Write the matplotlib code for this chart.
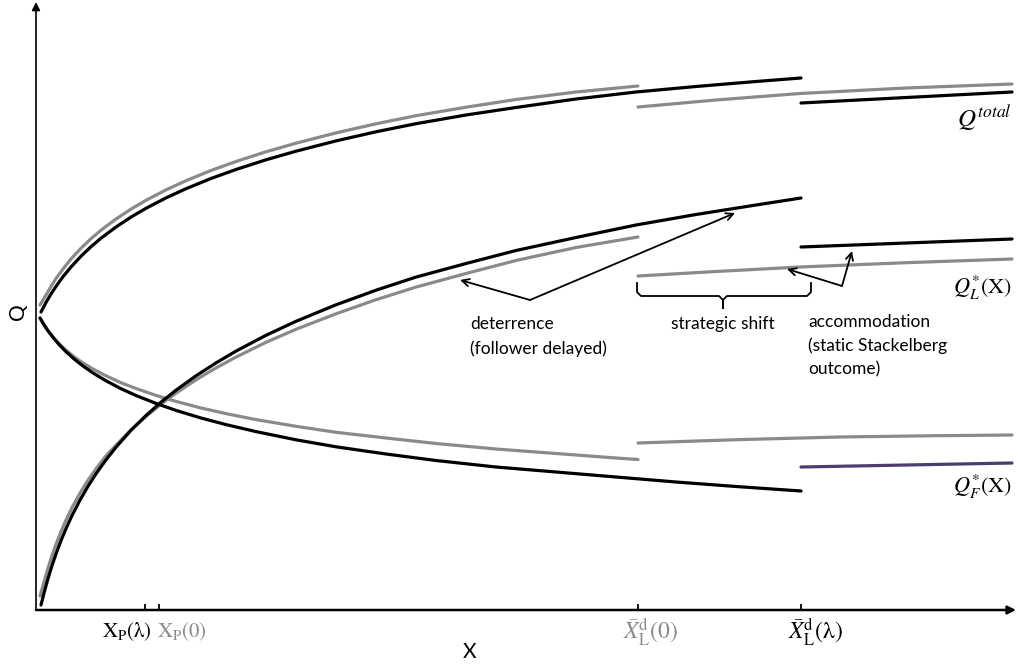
import matplotlib as mpl
import matplotlib.pyplot as plt

mpl.rcParams["font.family"] = ["Lato", "DejaVu Sans"]
mpl.rcParams["mathtext.fontset"] = "stix"

GRAY = "#8a8a8a"
PURPLE = "#4b3d6e"

# thresholds on the X axis
x_p_lam = 109
x_p_0 = 123
x_bar_0 = 602
x_bar_lam = 765

# total quantity, lambda case (black) and lambda = 0 (gray)
tot_lam_x = [5, 10, 15, 20, 27, 35, 45, 55, 65, 80, 95, 110, 130, 150, 175, 200, 230, 260,
             300, 340, 380, 430, 480, 540, 600, 660, 720, 765]
tot_lam_q = [298, 307.5, 316, 323.6, 333.3, 343, 353.8, 363.3, 371.8, 383, 392.9, 401.7, 412.1,
             421.3, 431.5, 440.5, 450.2, 458.8, 469.1, 478.2, 486.3, 495, 502.5, 511, 518, 523.5,
             528.5, 532]
tot_0_x = [4, 10, 15, 20, 27, 35, 45, 55, 65, 80, 95, 110, 130, 150, 175, 200, 230, 260, 300,
           340, 380, 430, 480, 540, 602]
tot_0_q = [305, 315, 323.5, 331.5, 341, 351, 361.8, 371.3, 379.8, 391, 400.9, 409.7, 420.1, 429.3,
           439.5, 448.5, 458.2, 466.8, 477.1, 486.2, 494.3, 502.8, 510.5, 518, 524]
tot_0_acc_x = [602, 680, 764, 870, 976]
tot_0_acc_q = [503, 510, 516.5, 522, 526]
tot_lam_acc_x = [765, 976]
tot_lam_acc_q = [507, 518]

# leader quantity
ql_lam_x = [5, 8, 12, 16, 20, 25, 30, 36, 44, 52, 60, 70, 80, 95, 110, 125, 140, 160, 180, 200,
            230, 260, 300, 340, 380, 430, 480, 540, 600, 660, 720, 765]
ql_lam_q = [5, 17, 31.4, 44.4, 56.1, 69.4, 81.4, 94.4, 109.9, 123.8, 136.2, 150.2, 162.8, 179.7,
            194.5, 207.8, 219.8, 234.2, 247.1, 258.9, 274.7, 288.7, 305.2, 319.8, 332.9, 346.5,
            359.5, 372.5, 385, 395.5, 405, 412]
ql_0_x = [4, 8, 12, 16, 20, 25, 30, 36, 44, 52, 60, 70, 80, 95, 110, 125, 140, 160, 180, 200,
          230, 260, 300, 340, 380, 430, 480, 540, 602]
ql_0_q = [14, 28, 41.9, 54.4, 65.6, 78.4, 89.9, 102.4, 116.9, 129.8, 141.2, 154.2, 164.8, 180.2,
          193.5, 205.8, 216.8, 230.2, 242.1, 252.9, 267.7, 280.7, 296.2, 310.3, 322.9, 336.5,
          349.5, 362.5, 373]
ql_0_acc_x = [602, 680, 764, 870, 976]
ql_0_acc_q = [334, 338.5, 343, 347.3, 351]
ql_lam_acc_x = [765, 976]
ql_lam_acc_q = [363, 371]

# follower quantity
qf_lam_x = [4, 8, 12, 17, 23, 30, 38, 47, 57, 70, 85, 100, 120, 140, 165, 190, 220, 260, 300,
            350, 400, 460, 520, 580, 640, 700, 765]
qf_lam_q = [292, 285.2, 279.2, 272.6, 265.5, 258.3, 251.1, 244, 237, 229.2, 221.3, 214.5, 206.6,
            199.6, 192, 185.4, 178.4, 170.2, 163.2, 156, 149.5, 143, 138, 133, 128, 123.5, 119]
qf_0_x = [4, 8, 12, 17, 23, 30, 38, 47, 57, 70, 85, 100, 120, 140, 165, 190, 220, 260, 300, 350,
          400, 460, 520, 580, 602]
qf_0_q = [292, 285.2, 279.4, 273.1, 266.5, 259.8, 253.3, 247, 241, 234.2, 227.3, 221.5, 214.6,
          208.6, 202, 196.4, 190.4, 183.7, 177.7, 172, 166.5, 161, 156.5, 152, 150.5]
qf_0_acc_x = [602, 700, 804, 900, 976]
qf_0_acc_q = [167, 170.3, 173, 174.3, 175]
qf_lam_acc_x = [765, 976]
qf_lam_acc_q = [143, 147]

fig = plt.figure(figsize=(10.18, 6.67), dpi=100)
ax = fig.add_axes([36 / 1018, 57 / 667, 980 / 1018, 608 / 667])
ax.set_xlim(0, 980)
ax.set_ylim(0, 608)

lw = 2.3
for xs, qs in [(tot_0_x, tot_0_q), (tot_0_acc_x, tot_0_acc_q), (ql_0_x, ql_0_q),
               (ql_0_acc_x, ql_0_acc_q), (qf_0_x, qf_0_q), (qf_0_acc_x, qf_0_acc_q)]:
    ax.plot(xs, qs, color=GRAY, lw=lw, solid_capstyle="round", clip_on=False)
for xs, qs in [(tot_lam_x, tot_lam_q), (tot_lam_acc_x, tot_lam_acc_q), (ql_lam_x, ql_lam_q),
               (ql_lam_acc_x, ql_lam_acc_q), (qf_lam_x, qf_lam_q)]:
    ax.plot(xs, qs, color="black", lw=lw, solid_capstyle="round", clip_on=False)
ax.plot(qf_lam_acc_x, qf_lam_acc_q, color=PURPLE, lw=lw, solid_capstyle="round", clip_on=False)

# axes with arrow heads
for s in ["top", "right", "left", "bottom"]:
    ax.spines[s].set_visible(False)
ax.annotate("", xy=(980, 0), xytext=(0, 0), annotation_clip=False,
            arrowprops=dict(arrowstyle="-|>", color="black", lw=1.8, mutation_scale=12,
                            shrinkA=0, shrinkB=0))
ax.annotate("", xy=(0, 608), xytext=(0, 0), annotation_clip=False,
            arrowprops=dict(arrowstyle="-|>", color="black", lw=1.2, mutation_scale=12,
                            shrinkA=0, shrinkB=0))
ax.set_yticks([])
ax.set_xticks([x_p_lam, x_p_0, x_bar_0, x_bar_lam])
ax.set_xticklabels([])
ax.tick_params(axis="x", direction="in", length=4, width=1.3, pad=0)

ax.text(x_p_lam + 7, -22, r"$\mathrm{X_P}$(λ)", ha="right", va="center", fontsize=15,
        family="STIXGeneral")
ax.text(x_p_0 - 2, -22, r"$\mathrm{X_P}$(0)", ha="left", va="center", fontsize=15,
        color=GRAY, family="STIXGeneral")
ax.text(x_bar_0 - 15, -22, r"$\bar{X}_\mathrm{L}^\mathrm{d}$(0)", ha="left", va="center",
        fontsize=17, color=GRAY, family="STIXGeneral")
ax.text(x_bar_lam - 13, -22, r"$\bar{X}_\mathrm{L}^\mathrm{d}$(λ)", ha="left", va="center",
        fontsize=17, family="STIXGeneral")

fig.text(470 / 1018, 1 - 652 / 667, "X", ha="center", va="center", fontsize=15)
fig.text(18 / 1018, 1 - 312 / 667, "Q", ha="center", va="center", fontsize=15, rotation=90)

# curve labels
ax.text(976, 492, r"$Q^{total}$", ha="right", va="center", fontsize=18)
ax.text(976, 322, r"$Q_L^{*}$(X)", ha="right", va="center", fontsize=16, family="STIXGeneral")
ax.text(976, 123, r"$Q_F^{*}$(X)", ha="right", va="center", fontsize=16, family="STIXGeneral")

# deterrence
arr = dict(arrowstyle="->", color="black", lw=1.3, mutation_scale=13, shrinkA=0, shrinkB=0)
ax.annotate("", xy=(424, 330), xytext=(494, 310), arrowprops=arr)
ax.annotate("", xy=(699, 397), xytext=(494, 310), arrowprops=arr)
ax.text(434, 294, "deterrence\n(follower delayed)", ha="left", va="top", fontsize=12.5,
        linespacing=1.6)

# strategic shift brace
brace_x = [601, 601, 605, 683, 687, 687, 687, 691, 771, 775, 775]
brace_q = [327, 318, 314, 314, 310, 302, 310, 314, 314, 318, 327]
ax.plot(brace_x, brace_q, color="black", lw=1.3, clip_on=False)
ax.text(687, 286, "strategic shift", ha="center", va="center", fontsize=12.5)

# accommodation
ax.annotate("", xy=(751, 341), xytext=(806, 324), arrowprops=arr)
ax.annotate("", xy=(816, 359), xytext=(806, 324), arrowprops=arr)
ax.text(772, 296, "accommodation\n(static Stackelberg\noutcome)", ha="left", va="top",
        fontsize=12.5, linespacing=1.55)

fig.savefig("out.png", dpi=100)
